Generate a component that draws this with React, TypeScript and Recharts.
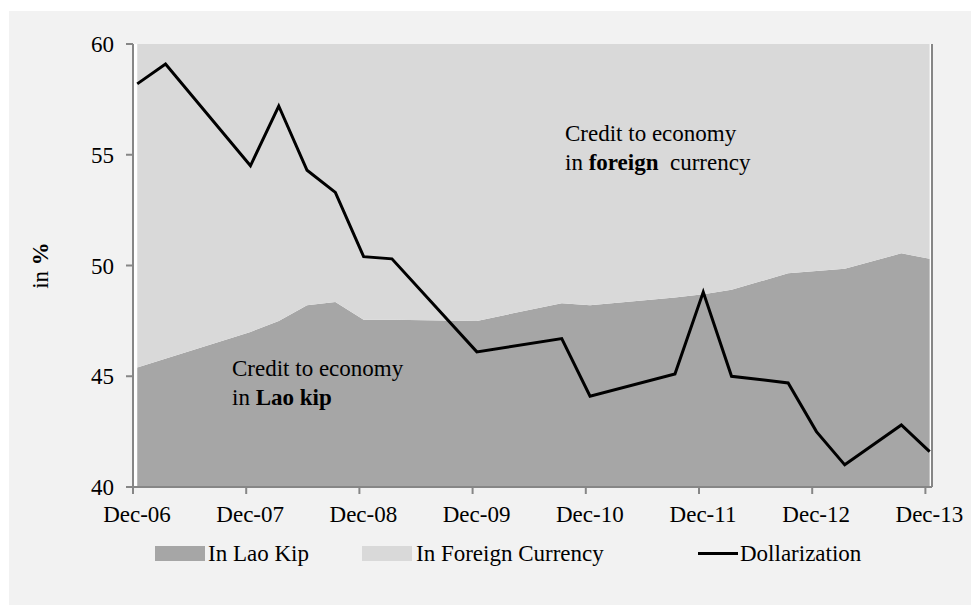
import {
  ComposedChart,
  Area,
  Line,
  XAxis,
  YAxis,
  CartesianGrid,
  ReferenceLine,
} from "recharts";

const MONTHS = ["Jan", "Feb", "Mar", "Apr", "May", "Jun", "Jul", "Aug", "Sep", "Oct", "Nov", "Dec"];

// x axis labels (one per year)
const tickLabels = ["Dec-06", "Dec-07", "Dec-08", "Dec-09", "Dec-10", "Dec-11", "Dec-12", "Dec-13"];

// credit shares, in % of total credit to economy
const shareDates = [
  "Dec-06", "Dec-07", "Mar-08", "Jun-08", "Sep-08", "Dec-08", "Mar-09", "Dec-09", "Sep-10",
  "Dec-10", "Sep-11", "Dec-11", "Mar-12", "Sep-12", "Dec-12", "Mar-13", "Sep-13", "Dec-13",
];
const laoKip = [
  45.4, 47.0, 47.5, 48.2, 48.35, 47.55, 47.55, 47.5, 48.3,
  48.2, 48.55, 48.7, 48.9, 49.65, 49.75, 49.85, 50.55, 50.3,
];
const foreignCurrency = [
  54.6, 53.0, 52.5, 51.8, 51.65, 52.45, 52.45, 52.5, 51.7,
  51.8, 51.45, 51.3, 51.1, 50.35, 50.25, 50.15, 49.45, 49.7,
];

// dollarization ratio
const dollarDates = [
  "Dec-06", "Mar-07", "Dec-07", "Mar-08", "Jun-08", "Sep-08", "Dec-08", "Mar-09", "Dec-09", "Sep-10",
  "Dec-10", "Sep-11", "Dec-11", "Mar-12", "Sep-12", "Dec-12", "Mar-13", "Sep-13", "Dec-13",
];
const dollarization = [
  58.2, 59.1, 54.5, 57.2, 54.3, 53.3, 50.4, 50.3, 46.1, 46.7,
  44.1, 45.1, 48.8, 45.0, 44.7, 42.5, 41.0, 42.8, 41.6,
];

const yTicks = [40, 45, 50, 55, 60];

const seriesNames = ["In Lao Kip", "In Foreign Currency", "Dollarization"];

const KIP = "#a6a6a6";
const FX = "#d9d9d9";
const AXIS = "#868686";
const FONT = "Liberation Serif, Tinos, DejaVu Serif, serif";

// months since Dec-06
function monthIndex(label: string) {
  const [m, yy] = label.split("-");
  return (Number(yy) - 6) * 12 + MONTHS.indexOf(m) - 11;
}

// points sit mid-month, ticks at month start (like the Excel date axis)
const shareData = shareDates.map((d, i) => ({
  x: monthIndex(d) + 0.45,
  kip: laoKip[i],
  fx: foreignCurrency[i],
}));
const lineData = dollarDates.map((d, i) => ({ x: monthIndex(d) + 0.45, v: dollarization[i] }));
const xTicks = tickLabels.map(monthIndex);
const X_MAX = 84.7;

function YLabel(props: any) {
  const vb = props.viewBox || { x: 0, y: 0, height: 0 };
  const cx = vb.x + 40;
  const cy = vb.y + vb.height / 2;
  return (
    <text
      x={cx}
      y={cy}
      transform={`rotate(-90, ${cx}, ${cy})`}
      textAnchor="middle"
      fontFamily={FONT}
      fontSize={23}
      fill="#000"
    >
      in <tspan fontWeight="bold">%</tspan>
    </text>
  );
}

const textStyle: React.CSSProperties = {
  position: "absolute",
  fontFamily: FONT,
  fontSize: 23,
  lineHeight: "29px",
  color: "#000",
  whiteSpace: "pre",
};

export default function App() {
  return (
    <div style={{ position: "relative", width: 971, height: 597, background: "#fff" }}>
      <div
        style={{ position: "absolute", left: 1, top: 3, width: 970, height: 594, background: "#f2f2f2" }}
      />
      <div style={{ position: "absolute", left: 0, top: 0 }}>
        <ComposedChart
          width={971}
          height={597}
          data={shareData}
          margin={{ top: 36, right: 47, bottom: 78, left: 0 }}
        >
          <CartesianGrid fill="#ffffff" stroke="none" />
          <XAxis
            dataKey="x"
            type="number"
            domain={[0, X_MAX]}
            ticks={xTicks}
            interval={0}
            tickFormatter={(v: number) => tickLabels[xTicks.indexOf(v)] ?? ""}
            axisLine={{ stroke: AXIS, strokeWidth: 2 }}
            tickLine={{ stroke: AXIS, strokeWidth: 2 }}
            tickSize={7}
            tickMargin={12}
            tick={{ fill: "#000", fontSize: 23, fontFamily: FONT, dx: 4 }}
            height={40}
          />
          <YAxis
            domain={[40, 60]}
            ticks={yTicks}
            interval={0}
            allowDataOverflow
            width={125}
            axisLine={{ stroke: AXIS, strokeWidth: 2 }}
            tickLine={{ stroke: AXIS, strokeWidth: 2 }}
            tickSize={7}
            tickMargin={12}
            tick={{ fill: "#000", fontSize: 23, fontFamily: FONT }}
            label={<YLabel />}
          />
          <Area
            dataKey="kip"
            stackId="credit"
            type="linear"
            fill={KIP}
            fillOpacity={1}
            stroke="none"
            isAnimationActive={false}
          />
          <Area
            dataKey="fx"
            stackId="credit"
            type="linear"
            fill={FX}
            fillOpacity={1}
            stroke="none"
            isAnimationActive={false}
          />
          <Line
            data={lineData}
            dataKey="v"
            type="linear"
            stroke="#000"
            strokeWidth={3}
            dot={false}
            activeDot={false}
            isAnimationActive={false}
          />
          <ReferenceLine x={X_MAX} stroke={AXIS} strokeWidth={2} />
        </ComposedChart>
      </div>

      <div style={{ ...textStyle, left: 557, top: 111 }}>Credit to economy</div>
      <div style={{ ...textStyle, left: 557, top: 140 }}>
        in <b>foreign</b>  currency
      </div>
      <div style={{ ...textStyle, left: 224, top: 346 }}>Credit to economy</div>
      <div style={{ ...textStyle, left: 224, top: 375 }}>
        in <b>Lao kip</b>
      </div>

      <div style={{ position: "absolute", left: 147, top: 538, width: 50, height: 15, background: KIP }} />
      <div style={{ ...textStyle, left: 200, top: 531 }}>{seriesNames[0]}</div>
      <div style={{ position: "absolute", left: 354, top: 538, width: 50, height: 15, background: FX }} />
      <div style={{ ...textStyle, left: 408, top: 531 }}>{seriesNames[1]}</div>
      <div style={{ position: "absolute", left: 690, top: 544, width: 40, height: 3, background: "#000" }} />
      <div style={{ ...textStyle, left: 732, top: 531 }}>{seriesNames[2]}</div>
    </div>
  );
}
